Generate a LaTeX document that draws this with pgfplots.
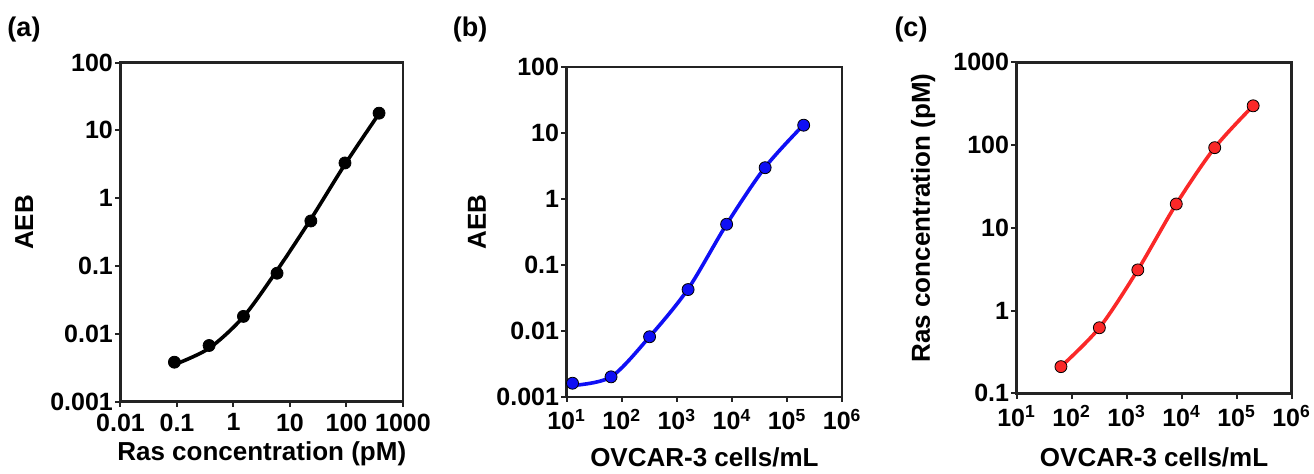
\documentclass[border=0pt]{standalone}
\usepackage{fontspec}
\setmainfont{Liberation Sans}
\usepackage{pgfplots}
\pgfplotsset{compat=1.18}

\definecolor{pblue}{RGB}{15,15,245}
\definecolor{pred}{RGB}{250,40,40}
\definecolor{frame}{RGB}{35,35,35}

\pgfplotsset{
  every axis/.append style={
    scale only axis, anchor=south west,
    axis line style={frame, line width=1.2pt},
    xminorticks=false, yminorticks=false,
    major tick length=2.6pt, tick align=outside, tick pos=left,
    major tick style={frame, line width=1pt},
    /pgf/number format/assume math mode=true,
    tick label style={font=\bfseries\fontsize{12.5}{13}\selectfont},
    yticklabel style={inner xsep=1pt},
    label style={font=\bfseries\fontsize{13}{14}\selectfont},
  },
}
\tikzset{
  pts/.style={only marks, mark=*, mark size=3pt, draw=none},
  fitline/.style={smooth, line width=1.8pt, mark=none},
  plabel/.style={font=\bfseries\fontsize{13.5}{14}\selectfont},
}

\begin{document}
\begin{tikzpicture}
\path[use as bounding box] (0,0) rectangle (657pt,236.5pt);
\node[plabel] at (12pt,221.5pt) {(a)};
\node[plabel] at (235pt,221.5pt) {(b)};
\node[plabel] at (455.5pt,221.5pt) {(c)};

% (a) AEB vs Ras
\begin{axis}[xmode=log, ymode=log, at={(60.25pt,35.75pt)}, width=141.25pt, height=169.5pt,
  xmin=0.01, xmax=1000, ymin=0.001, ymax=100,
  xtick={0.01,0.1,1,10,100,1000}, xticklabels={0.01,0.1,1,10,100,1000},
  ytick={0.001,0.01,0.1,1,10,100}, yticklabels={0.001,0.01,0.1,1,10,100},
  xlabel={Ras concentration (pM)}, ylabel={AEB},
  xlabel style={at={(axis description cs:0.5,-0.1726)}, anchor=base},
  ylabel style={at={(axis description cs:-0.3097,0.528)}, anchor=base},
]
\addplot[fitline, black] coordinates {(0.09,0.0035) (0.37,0.0061) (1.5,0.0178) (5.9,0.086) (23.4,0.49) (94,3.15) (377,17.6)};
\addplot[pts, fill=black] coordinates {(0.09,0.0038) (0.37,0.0067) (1.5,0.018) (5.9,0.078) (23.4,0.46) (94,3.3) (377,17.9)};
\end{axis}

% (b) AEB vs cells
\begin{axis}[xmode=log, ymode=log, at={(283.3pt,38.15pt)}, width=137.8pt, height=165pt,
  xmin=10, xmax=1e6, ymin=0.001, ymax=100,
  xtick={10,100,1000,10000,100000,1000000},
  xticklabels={10\textsuperscript{1},10\textsuperscript{2},10\textsuperscript{3},10\textsuperscript{4},10\textsuperscript{5},10\textsuperscript{6}},
  ytick={0.001,0.01,0.1,1,10,100}, yticklabels={0.001,0.01,0.1,1,10,100},
  xlabel={OVCAR-3 cells/mL}, ylabel={AEB},
  xlabel style={at={(axis description cs:0.5,-0.213)}, anchor=base},
  ylabel style={at={(axis description cs:-0.2928,0.529)}, anchor=base},
]
\addplot[fitline, pblue] coordinates {(12.8,0.00148) (64,0.00200) (320,0.0081) (1600,0.043) (8000,0.41) (40000,3.0) (200000,13.2)};
\addplot[pts, fill=pblue] coordinates {(12.8,0.0016) (64,0.0020) (320,0.0081) (1600,0.042) (8000,0.41) (40000,2.95) (200000,13)};
\end{axis}

% (c) Ras vs cells
\begin{axis}[xmode=log, ymode=log, at={(508.3pt,39.85pt)}, width=137.5pt, height=165.5pt,
  xmin=10, xmax=1e6, ymin=0.1, ymax=1000,
  xtick={10,100,1000,10000,100000,1000000},
  xticklabels={10\textsuperscript{1},10\textsuperscript{2},10\textsuperscript{3},10\textsuperscript{4},10\textsuperscript{5},10\textsuperscript{6}},
  ytick={0.1,1,10,100,1000}, yticklabels={0.1,1,10,100,1000},
  xlabel={OVCAR-3 cells/mL}, ylabel={Ras concentration (pM)},
  xlabel style={at={(axis description cs:0.5,-0.2197)}, anchor=base},
  ylabel style={at={(axis description cs:-0.3153,0.5296)}, anchor=base},
]
\addplot[fitline, pred] coordinates {(64,0.21) (320,0.62) (1600,3.1) (8000,19.4) (40000,93) (200000,298)};
\addplot[pts, fill=pred] coordinates {(64,0.21) (320,0.62) (1600,3.1) (8000,19.4) (40000,93) (200000,298)};
\end{axis}
\end{tikzpicture}
\end{document}
